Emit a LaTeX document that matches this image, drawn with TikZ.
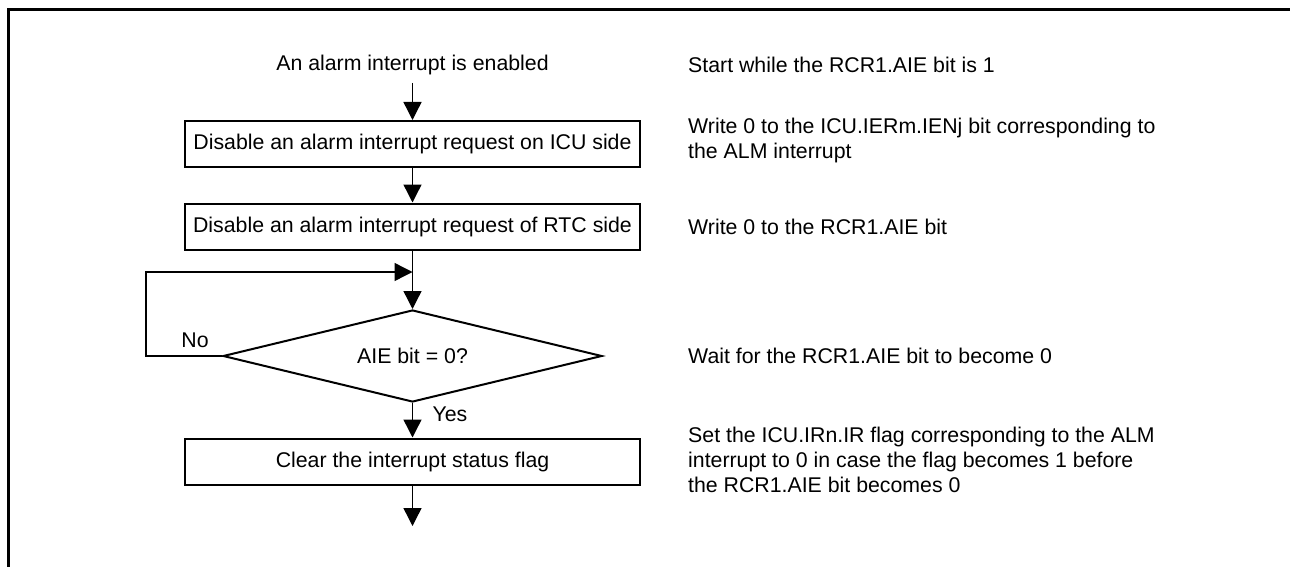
\documentclass[tikz,border=0pt]{standalone}
\usepackage{fontspec}
\setmainfont{Liberation Sans}
\usetikzlibrary{arrows.meta,shapes.geometric}
\begin{document}
\begin{tikzpicture}[x=1pt,y=-1pt,
  every node/.style={font=\fontsize{21.3}{25}\selectfont},
  stepbox/.style={draw,line width=2pt,minimum width=455pt,minimum height=46pt,inner sep=0pt},
  decision/.style={draw,diamond,line width=2pt,minimum width=379pt,minimum height=92pt,inner sep=0pt,aspect=4.12},
  note/.style={anchor=west,align=left,inner sep=0pt},
  arr/.style={line width=1.4pt,-{Triangle[length=18pt,width=18pt]}}]
\useasboundingbox (0,0) rectangle (1290,567);
\draw[line width=2.7pt] (8.7,567) -- (8.7,9.7) -- (1290,9.7);

\node (start) at (412.5,65) {An alarm interrupt is enabled};
\coordinate (s0) at (412.5,83);
\node[stepbox] (b1) at (412.5,144) {Disable an alarm interrupt request on ICU side};
\node[stepbox] (b2) at (412.5,226.5) {Disable an alarm interrupt request of RTC side};
\node[decision] (d) at (412.5,356) {AIE bit = 0?};
\node[stepbox] (b3) at (412.5,461.5) {Clear the interrupt status flag};
\coordinate (endp) at (412.5,526);
\coordinate (loopin) at (412.5,272);

\draw[arr] (s0) -- (b1.north);
\draw[arr] (b1.south) -- (b2.north);
\draw[arr] (b2.south) -- (d.north);
\draw[arr] (d.west) -- ++(-76,0) |- (loopin);
\draw[arr] (d.south) -- (b3.north);
\draw[arr] (b3.south) -- (endp);

\node (no) at (195,340) {No};
\node (yes) at (450,414) {Yes};

\node[note] (n1) at (688,65) {Start while the RCR1.AIE bit is 1};
\node[note] (n2) at (688,140.5) {Write 0 to the ICU.IERm.IENj bit corresponding to\\the ALM interrupt};
\node[note] (n3) at (688,226.5) {Write 0 to the RCR1.AIE bit};
\node[note] (n4) at (688,356) {Wait for the RCR1.AIE bit to become 0};
\node[note] (n5) at (688,460) {Set the ICU.IRn.IR flag corresponding to the ALM\\interrupt to 0 in case the flag becomes 1 before\\the RCR1.AIE bit becomes 0};
\end{tikzpicture}
\end{document}
